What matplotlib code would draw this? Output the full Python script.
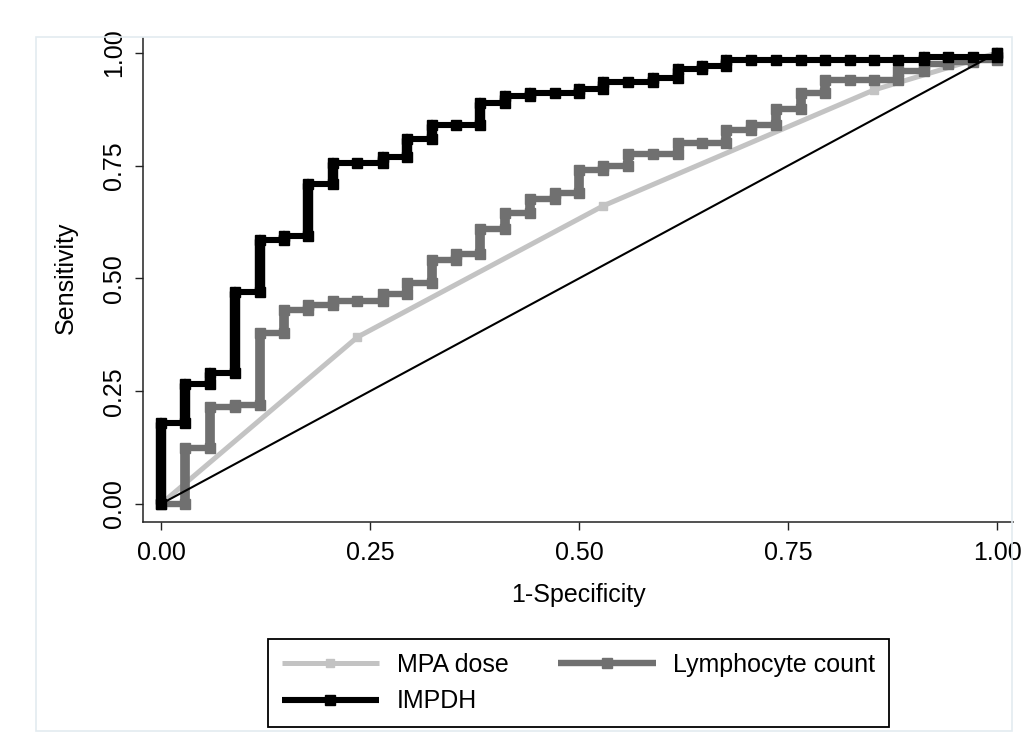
import matplotlib
matplotlib.use("Agg")
import matplotlib.pyplot as plt
from matplotlib.patches import Rectangle

plt.rcParams['font.family'] = ['Liberation Sans', 'DejaVu Sans']

# ---------------- data ----------------
series_names = ["MPA dose", "Lymphocyte count", "IMPDH"]
x_ticks = [0.0, 0.25, 0.5, 0.75, 1.0]
tick_labels = ["0.00", "0.25", "0.50", "0.75", "1.00"]

mpa_fpr = [0.0, 0.235, 0.529, 0.853, 1.0]
mpa_tpr = [0.0, 0.370, 0.661, 0.918, 1.0]

lym_fpr = [0.0, 0.029, 0.029, 0.059, 0.059, 0.088, 0.088, 0.118, 0.118, 0.147, 0.147,
           0.176, 0.176, 0.206, 0.206, 0.235, 0.265, 0.265, 0.294, 0.294, 0.324, 0.324,
           0.353, 0.353, 0.382, 0.382, 0.412, 0.412, 0.441, 0.441, 0.471, 0.471, 0.5, 0.5,
           0.529, 0.529, 0.559, 0.559, 0.588, 0.618, 0.618, 0.647, 0.676, 0.676, 0.706,
           0.706, 0.735, 0.735, 0.765, 0.765, 0.794, 0.794, 0.824, 0.853, 0.882, 0.882,
           0.912, 0.912, 0.941, 0.941, 0.971, 0.971, 1.0, 1.0]
lym_tpr = [0.0, 0.0, 0.125, 0.125, 0.215, 0.215, 0.22, 0.22, 0.38, 0.38, 0.43,
           0.43, 0.44, 0.44, 0.45, 0.45, 0.45, 0.465, 0.465, 0.49, 0.49, 0.54,
           0.54, 0.555, 0.555, 0.61, 0.61, 0.645, 0.645, 0.675, 0.675, 0.69, 0.69, 0.74,
           0.74, 0.75, 0.75, 0.775, 0.775, 0.775, 0.80, 0.80, 0.80, 0.83, 0.83,
           0.84, 0.84, 0.875, 0.875, 0.91, 0.91, 0.94, 0.94, 0.94, 0.94, 0.96,
           0.96, 0.975, 0.975, 0.98, 0.98, 0.985, 0.985, 1.0]

imp_fpr = [0.0, 0.0, 0.029, 0.029, 0.059, 0.059, 0.088, 0.088, 0.118, 0.118, 0.147, 0.147,
           0.176, 0.176, 0.206, 0.206, 0.235, 0.265, 0.265, 0.294, 0.294, 0.324, 0.324,
           0.353, 0.382, 0.382, 0.412, 0.412, 0.441, 0.441, 0.471, 0.5, 0.5, 0.529, 0.529,
           0.559, 0.588, 0.588, 0.618, 0.618, 0.647, 0.647, 0.676, 0.676, 0.706, 0.735,
           0.765, 0.794, 0.824, 0.853, 0.882, 0.912, 0.912, 0.941, 0.971, 1.0, 1.0]
imp_tpr = [0.0, 0.18, 0.18, 0.265, 0.265, 0.29, 0.29, 0.47, 0.47, 0.585, 0.585, 0.595,
           0.595, 0.71, 0.71, 0.755, 0.755, 0.755, 0.77, 0.77, 0.81, 0.81, 0.84,
           0.84, 0.84, 0.89, 0.89, 0.905, 0.905, 0.91, 0.91, 0.91, 0.92, 0.92, 0.935,
           0.935, 0.935, 0.945, 0.945, 0.965, 0.965, 0.97, 0.97, 0.985, 0.985, 0.985,
           0.985, 0.985, 0.985, 0.985, 0.985, 0.985, 0.99, 0.99, 0.99, 0.99, 1.0]

ref_line = [0.0, 1.0]

# ---------------- figure ----------------
W, H = 1027, 753
fig = plt.figure(figsize=(W / 100, H / 100), dpi=100)
fig.patch.set_facecolor("white")

# outer light frame
fig.add_artist(Rectangle((36 / W, 1 - 731 / H), (1012 - 36) / W, (731 - 37) / H,
                         transform=fig.transFigure, facecolor="none",
                         edgecolor="#e3ebf0", lw=1.2))

ax = fig.add_axes([143 / W, 1 - 522 / H, 870 / W, 484 / H])
ax.set_xlim(-0.0215, 1.019)
ax.set_ylim(-0.04, 1.033)


def draw_roc(fpr, tpr, color, lw, vlw, ms, label, z):
    line, = ax.plot(fpr, tpr, color=color, lw=lw, marker="s", ms=ms,
                    mec=color, mfc=color, label=label, zorder=z,
                    solid_joinstyle="miter", solid_capstyle="butt")
    for i in range(len(fpr) - 1):
        if fpr[i] == fpr[i + 1] and tpr[i] != tpr[i + 1]:
            ax.plot([fpr[i], fpr[i + 1]], [tpr[i], tpr[i + 1]], color=color,
                    lw=vlw, solid_capstyle="round", zorder=z)
    return line


h_mpa = draw_roc(mpa_fpr, mpa_tpr, "#c3c3c3", 3.6, 3.6, 6.0, series_names[0], 2)
h_lym = draw_roc(lym_fpr, lym_tpr, "#707070", 4.6, 7.0, 6.5, series_names[1], 3)
h_imp = draw_roc(imp_fpr, imp_tpr, "#000000", 4.4, 7.5, 6.5, series_names[2], 4)
ax.plot(ref_line, ref_line, color="black", lw=1.5, zorder=5)

# axes styling
for s in ["top", "right"]:
    ax.spines[s].set_visible(False)
for s in ["left", "bottom"]:
    ax.spines[s].set_linewidth(1.1)
    ax.spines[s].set_color("#222222")

ax.set_xticks(x_ticks)
ax.set_xticklabels(tick_labels)
ax.set_yticks(x_ticks)
ax.set_yticklabels(tick_labels, rotation=90, va="center")
ax.tick_params(axis="both", direction="out", length=6, width=1.0,
               color="#222222", labelsize=18, labelcolor="black")
ax.tick_params(axis="x", pad=8)
ax.tick_params(axis="y", pad=6)

fig.text(578.5 / W, 1 - 602 / H, "1-Specificity", ha="center", va="baseline",
         fontsize=18)
fig.text(73 / W, 1 - 277.5 / H, "Sensitivity", ha="center", va="baseline",
         rotation=90, rotation_mode="anchor", fontsize=18)

leg = fig.legend([h_mpa, h_imp, h_lym],
                 [series_names[0], series_names[2], series_names[1]],
                 ncol=2, loc="upper center",
                 bbox_to_anchor=(578.5 / W, 1 - 639 / H),
                 bbox_transform=fig.transFigure,
                 fontsize=18, numpoints=1, handlelength=3.9,
                 handletextpad=0.7, columnspacing=2.0, borderpad=0.55,
                 labelspacing=0.5, borderaxespad=0.0, fancybox=False,
                 frameon=True, framealpha=1.0)
leg.get_frame().set_edgecolor("black")
leg.get_frame().set_linewidth(1.3)

fig.savefig("out.png", dpi=100, facecolor="white")
